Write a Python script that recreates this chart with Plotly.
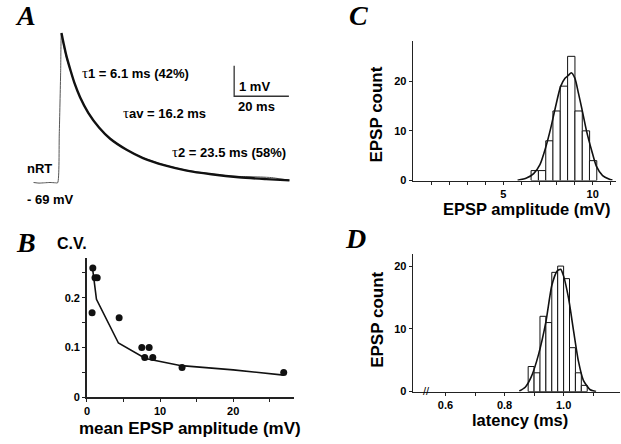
import plotly.graph_objects as go

W, H = 621, 444

# ---------------- Panel A: EPSP trace (ms, mV above -69 mV baseline) -------------
trace_t = [0, 2, 4, 6, 8, 8.8, 9.4, 9.9, 10.2, 11, 12, 13.5, 15, 17, 20, 24, 28,
           34, 40, 48, 56, 65, 72, 78, 83, 87, 90, 93.5]
trace_mv = [0.01, -0.01, 0.0, 0.01, 0.0, 0.0, 1.6, 3.6, 4.9, 4.5, 4.1, 3.66, 3.24,
            2.8, 2.3, 1.8, 1.45, 1.08, 0.82, 0.58, 0.41, 0.29, 0.22, 0.2, 0.19,
            0.17, 0.13, 0.09]
fit_t = [10.2, 11, 12, 13.5, 15, 17, 20, 24, 28, 34, 40, 48, 56, 65, 75, 85, 93.5]
fit_mv = [4.9, 4.55, 4.15, 3.68, 3.25, 2.8, 2.29, 1.8, 1.44, 1.08, 0.81, 0.57,
          0.4, 0.28, 0.18, 0.12, 0.08]
scalebar_t = [73.3, 73.3, 93.3]
scalebar_mv = [3.83, 2.83, 2.83]

# ---------------- Panel B: C.V. vs mean EPSP amplitude ----------------
cv_amp = [0.8, 1.1, 1.4, 0.7, 4.4, 7.5, 8.5, 7.9, 9.0, 13.0, 26.9]
cv_val = [0.26, 0.24, 0.24, 0.17, 0.16, 0.10, 0.10, 0.08, 0.08, 0.06, 0.05]
cv_fit_amp = [0.8, 1.3, 4.3, 8.0, 12.9, 20.0, 26.9]
cv_fit_val = [0.255, 0.197, 0.109, 0.078, 0.0635, 0.055, 0.0444]

# ---------------- Panel C: amplitude histogram ----------------
amp_bins = [6.76, 7.17, 7.58, 7.98, 8.39, 8.80, 9.21, 9.62, 10.02]
amp_counts = [2, 2, 8, 14, 19, 25, 14, 10, 4]
amp_fit_x = [5.8, 6.3, 6.7, 7.05, 7.35, 7.65, 7.9, 8.2, 8.45, 8.65, 8.8, 9.0,
             9.2, 9.4, 9.65, 9.95, 10.2, 10.55, 10.9, 11.1]
amp_fit_y = [0.05, 0.5, 1.4, 3.2, 6.4, 10.5, 14.5, 18.9, 20.6, 21.2, 21.7, 20.6,
             17.6, 14.3, 10.0, 5.9, 2.9, 1.0, 0.3, 0.1]

# ---------------- Panel D: latency histogram ----------------
lat_bins = [0.89, 0.91, 0.93, 0.95, 0.97, 0.99, 1.01, 1.03, 1.05, 1.07]
lat_counts = [4, 3, 12, 11, 19, 20, 18, 7, 3, 1]
lat_fit_x = [0.85, 0.87, 0.89, 0.915, 0.94, 0.96, 0.978, 0.99, 1.0, 1.017,
             1.034, 1.05, 1.067, 1.09, 1.11]
lat_fit_y = [0.1, 0.7, 2.3, 5.9, 11.1, 16.9, 19.2, 19.5, 18.4, 14.8, 9.6, 4.9,
             1.8, 0.3, 0.0]


def px(x):
    return x / W


def py(y):
    return 1 - y / H


SANS = "Liberation Sans"
SERIF = "Liberation Serif"
BLACK = "#111"

fig = go.Figure()

# Panel A traces
fig.add_trace(go.Scatter(x=trace_t, y=trace_mv, mode="lines", xaxis="x", yaxis="y",
                         line=dict(color="#555", width=1, shape="spline", smoothing=0.6)))
fig.add_trace(go.Scatter(x=fit_t, y=fit_mv, mode="lines", xaxis="x", yaxis="y",
                         line=dict(color=BLACK, width=2.4, shape="spline", smoothing=0.8)))
fig.add_trace(go.Scatter(x=scalebar_t, y=scalebar_mv, mode="lines", xaxis="x", yaxis="y",
                         line=dict(color="#333", width=1.3)))

# Panel B
fig.add_trace(go.Scatter(x=cv_fit_amp, y=cv_fit_val, mode="lines", xaxis="x2", yaxis="y2",
                         line=dict(color=BLACK, width=1.6)))
fig.add_trace(go.Scatter(x=cv_amp, y=cv_val, mode="markers", xaxis="x2", yaxis="y2",
                         marker=dict(color=BLACK, size=7), cliponaxis=False))

# Panel C
fig.add_trace(go.Bar(x=amp_bins, y=amp_counts, width=0.41, xaxis="x3", yaxis="y3",
                     marker=dict(color="white", line=dict(color=BLACK, width=1))))
fig.add_trace(go.Scatter(x=amp_fit_x, y=amp_fit_y, mode="lines", xaxis="x3", yaxis="y3",
                         line=dict(color=BLACK, width=1.6, shape="spline", smoothing=0.6)))

# Panel D
fig.add_trace(go.Bar(x=lat_bins, y=lat_counts, width=0.02, xaxis="x4", yaxis="y4",
                     marker=dict(color="white", line=dict(color=BLACK, width=1))))
fig.add_trace(go.Scatter(x=lat_fit_x, y=lat_fit_y, mode="lines", xaxis="x4", yaxis="y4",
                         line=dict(color=BLACK, width=1.6, shape="spline", smoothing=0.6)))

tickfont = dict(family=SANS, size=11, color="black", weight="bold")
axis_common = dict(showline=True, linecolor="#222", linewidth=1.4, ticks="outside",
                   ticklen=3, tickcolor="#222", tickwidth=1, showgrid=False,
                   zeroline=False, tickfont=tickfont, fixedrange=True)

fig.update_layout(
    width=W, height=H, margin=dict(l=0, r=0, t=0, b=0),
    paper_bgcolor="white", plot_bgcolor="rgba(0,0,0,0)", showlegend=False,
    bargap=0, hovermode=False,
    # A
    xaxis=dict(domain=[0, px(310)], range=[-11.16, 101.56], visible=False, fixedrange=True),
    yaxis=dict(domain=[py(215), 1], range=[-0.958, 5.977], visible=False, fixedrange=True),
    # B
    xaxis2=dict(domain=[px(84), px(292)], range=[-0.05, 28.25], anchor="y2",
                tickvals=[0, 5, 10, 15, 20, 25], ticktext=["0", "", "10", "", "20", ""],
                **axis_common),
    yaxis2=dict(domain=[py(402.7), py(262)], range=[0, 0.279], anchor="x2",
                tickvals=[0, 0.05, 0.1, 0.15, 0.2, 0.25],
                ticktext=["0", "", "0.1", "", "0.2", ""], **axis_common),
    # C
    xaxis3=dict(domain=[px(412), px(616)], range=[-0.04, 11.3], anchor="y3",
                tickvals=list(range(1, 12)),
                ticktext=["", "", "", "", "5", "", "", "", "", "10", ""], **axis_common),
    yaxis3=dict(domain=[py(183), py(42)], range=[0, 28.0], anchor="x3",
                tickvals=[0, 10, 20], **axis_common),
    # D
    xaxis4=dict(domain=[px(412), px(620)], range=[0.49, 1.191], anchor="y4",
                tickvals=[0.6, 0.7, 0.8, 0.9, 1.0, 1.1],
                ticktext=["0.6", "", "0.8", "", "1.0", ""], **axis_common),
    yaxis4=dict(domain=[py(397), py(257)], range=[0, 22], anchor="x4",
                tickvals=[0, 10, 20], **axis_common),
)

annotations = []


def note(text, x, y, size, family=SANS, bold=True, angle=0, xanchor="center"):
    annotations.append(dict(
        text=text, x=px(x), y=py(y), xref="paper", yref="paper", showarrow=False,
        xanchor=xanchor, yanchor="middle", textangle=angle,
        font=dict(family=family, size=size, color="black",
                  weight="bold" if bold else "normal")))


TAU = "<span style='font-family:Liberation Serif;font-weight:normal;font-size:15px'>τ</span>"

# panel letters
for letter, (x, y) in {"A": (23, 16), "B": (23, 246), "C": (357, 16), "D": (354, 242)}.items():
    note("<i>" + letter + "</i>", x, y, 28, family=SERIF)

# Panel A labels
note(TAU + "1 = 6.1 ms (42%)", 133, 74, 13)
note(TAU + "av = 16.2 ms", 162, 115, 13)
note(TAU + "2 = 23.5 ms (58%)", 227, 154, 13)
note("nRT", 37, 171, 13)
note("- 69 mV", 48, 202, 13)
note("1 mV", 253, 88, 13)
note("20 ms", 255, 108, 13)

# Panel B labels
note("C.V.", 69, 247, 16)
note("mean EPSP amplitude (mV)", 188, 434, 17)

# Panel C labels
note("EPSP count", 375, 116, 17, angle=-90)
note("EPSP amplitude (mV)", 526, 212, 16.5)

# Panel D labels
note("EPSP count", 376, 324, 17, angle=-90)
note("latency (ms)", 520, 426, 16.5)
note("//", 426, 396, 11, bold=False)

fig.update_layout(annotations=annotations)

fig.write_html("out.html",
               config={"displayModeBar": False, "staticPlot": True},
               post_script="document.body.style.margin='0px';document.body.style.overflow='hidden';")
